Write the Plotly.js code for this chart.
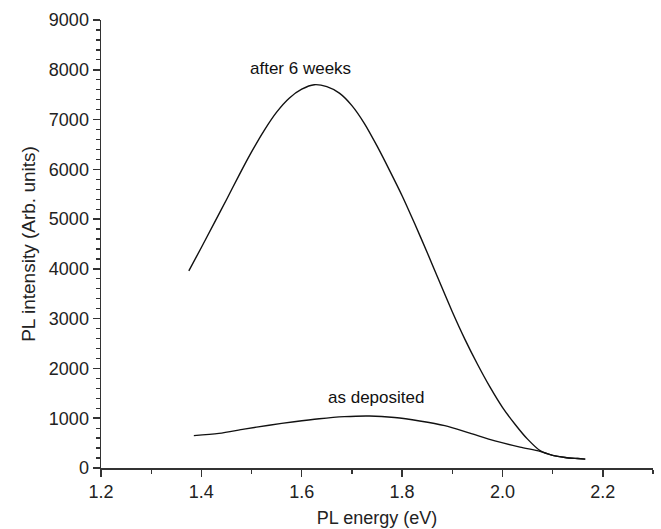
<!DOCTYPE html>
<html>
<head>
<meta charset="utf-8">
<script src="https://cdn.plot.ly/plotly-3.0.1.min.js"></script>
<style>html,body{margin:0;padding:0;background:#fff;}#chart{width:661px;height:529px;}</style>
</head>
<body>
<div id="chart"></div>
<script>
// PL energy (eV) and intensity (arb. units)
const energyAfter6Weeks = [1.375, 1.400, 1.425, 1.450, 1.475, 1.500, 1.525, 1.550, 1.575, 1.600, 1.625, 1.650, 1.675, 1.700, 1.725, 1.750, 1.775, 1.800, 1.825, 1.850, 1.875, 1.900, 1.925, 1.950, 1.975, 2.000, 2.025, 2.050, 2.075, 2.100, 2.125, 2.150, 2.165];
const intensityAfter6Weeks = [3960, 4430, 4910, 5390, 5880, 6350, 6780, 7150, 7430, 7610, 7700, 7660, 7530, 7280, 6920, 6470, 5980, 5470, 4910, 4330, 3730, 3140, 2590, 2090, 1630, 1220, 880, 580, 350, 255, 212, 190, 178];

const energyAsDeposited = [1.385, 1.435, 1.485, 1.535, 1.585, 1.635, 1.685, 1.735, 1.785, 1.835, 1.885, 1.935, 1.985, 2.035, 2.075, 2.100, 2.125, 2.150, 2.165];
const intensityAsDeposited = [650, 695, 780, 860, 930, 990, 1032, 1045, 1015, 945, 850, 700, 545, 420, 335, 255, 212, 190, 178];

const labelTexts = ["after 6 weeks", "as deposited"];
const labelX = [1.598, 1.748];
const labelY = [8020, 1420];

const lineStyle = {color: '#111', width: 1.4, shape: 'spline', smoothing: 0.8};
const data = [
  {x: energyAfter6Weeks, y: intensityAfter6Weeks, mode: 'lines', line: lineStyle, showlegend: false, hoverinfo: 'skip'},
  {x: energyAsDeposited, y: intensityAsDeposited, mode: 'lines', line: lineStyle, showlegend: false, hoverinfo: 'skip'}
];

const fontFam = 'Liberation Sans, Arial, sans-serif';
const layout = {
  width: 661, height: 529,
  margin: {l: 101, r: 8, t: 20, b: 61},
  paper_bgcolor: '#fff', plot_bgcolor: '#fff',
  font: {family: fontFam, color: '#222', size: 18},
  xaxis: {
    range: [1.2, 2.3], dtick: 0.2, tick0: 1.2, tickformat: '.1f',
    showgrid: false, zeroline: false, showline: true, linecolor: '#333', linewidth: 1.5,
    ticks: 'outside', ticklen: 7, tickwidth: 1.5, tickcolor: '#333',
    minor: {ticks: 'outside', ticklen: 4, tickwidth: 1.3, tickcolor: '#333', dtick: 0.1, showgrid: false},
    tickfont: {size: 18, family: fontFam, color: '#222'},
    title: {text: 'PL energy (eV)', font: {size: 18, family: fontFam, color: '#222'}, standoff: 10},
    automargin: false,
    fixedrange: true
  },
  yaxis: {
    range: [0, 9000], dtick: 1000, tick0: 0,
    showgrid: false, zeroline: false, showline: true, linecolor: '#333', linewidth: 1.5,
    ticks: 'outside', ticklen: 7, tickwidth: 1.5, tickcolor: '#333',
    minor: {ticks: 'outside', ticklen: 4, tickwidth: 1.3, tickcolor: '#333', dtick: 200, showgrid: false},
    tickfont: {size: 18, family: fontFam, color: '#222'},
    title: {text: 'PL intensity (Arb. units)', font: {size: 19, family: fontFam, color: '#222'}, standoff: 8},
    automargin: false,
    fixedrange: true
  },
  annotations: labelTexts.map((t, i) => ({
    x: labelX[i], y: labelY[i], xref: 'x', yref: 'y', text: t, showarrow: false,
    font: {size: 17, family: fontFam, color: '#111'}
  }))
};

Plotly.newPlot('chart', data, layout, {displayModeBar: false, staticPlot: true});
</script>
</body>
</html>
